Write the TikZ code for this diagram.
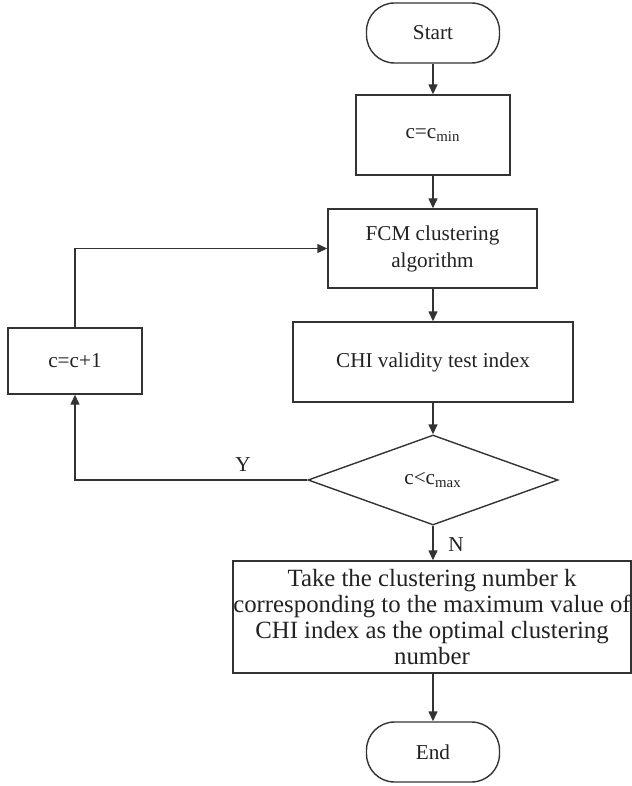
\documentclass[tikz,border=0pt]{standalone}
\usepackage{fontspec}
\setmainfont{Liberation Serif}
\usepackage{xcolor}
\usetikzlibrary{positioning,shapes.geometric,arrows.meta}

\definecolor{linegray}{HTML}{333333}
\definecolor{txtgray}{HTML}{222222}

\begin{document}
\begin{tikzpicture}[x=0.5pt, y=-0.5pt,
  every node/.style={font=\fontsize{10.6}{13.5}\selectfont, text=txtgray},
  proc/.style={draw=linegray, line width=0.7pt, rectangle, inner sep=0pt, align=center},
  term/.style={draw=linegray, line width=0.7pt, rectangle, rounded corners=14pt,
    minimum width=66.5pt, minimum height=30pt, inner sep=0pt},
  decide/.style={draw=linegray, line width=0.7pt, diamond, aspect=2.78,
    minimum width=125pt, minimum height=45pt, inner sep=0pt},
  flow/.style={draw=linegray, line width=0.7pt, -{Triangle[length=5pt,width=4.5pt]}}]
  \useasboundingbox (0,0) rectangle (631,786);
  % Start and first steps
  \node[term] (start) at (433,33) {Start};
  \node[proc, minimum width=77pt, minimum height=40pt] (cmin) at (433,135) {c=c\textsubscript{min}};
  \node[proc, minimum width=104.5pt, minimum height=39.5pt] (fcm) at (432.5,248.5) {FCM clustering\\algorithm};
  \node[proc, minimum width=140pt, minimum height=40pt] (chi) at (433,362) {CHI validity test index};
  % Decision
  \node[decide] (dec) at (433,480) {c<c\textsubscript{max}};
  % Loop box
  \node[proc, minimum width=67pt, minimum height=33pt] (cinc) at (75,361) {c=c+1};
  % Result and end
  \node[proc, minimum width=199pt, minimum height=56pt,
    font=\fontsize{12.4}{13}\selectfont] (take) at (432,617)
    {Take the clustering number k\\corresponding to the maximum value of\\CHI index as the optimal clustering\\number};
  \node[term] (stop) at (433,752) {End};
  % Connectors
  \draw[flow] (start) -- (cmin);
  \draw[flow] (cmin) -- (fcm.north -| cmin);
  \draw[flow] (fcm.south -| cmin) -- (chi);
  \draw[flow] (chi) -- (dec);
  \draw[flow] (dec.west) -| (cinc.south);
  \draw[flow] (cinc.north) |- (fcm.west);
  \draw[flow] (dec) -- (take.north -| dec);
  \draw[flow] (take.south -| dec) -- (stop);
  % Labels
  \node (ylab) at (243,465) {Y};
  \node (nlab) at (456,545) {N};
\end{tikzpicture}
\end{document}
